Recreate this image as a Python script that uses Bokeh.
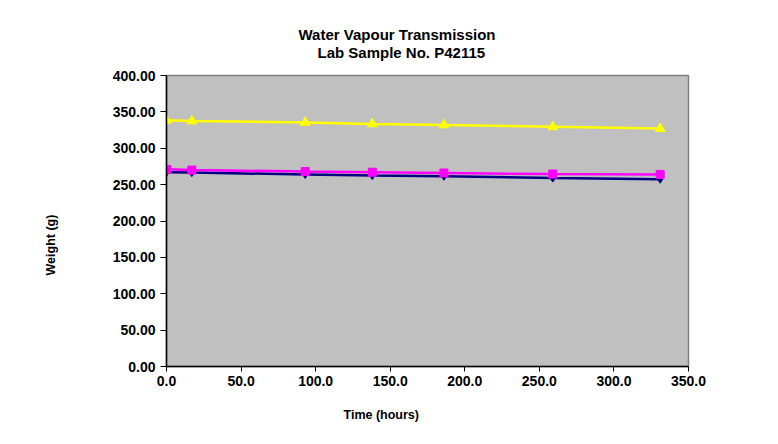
from bokeh.plotting import figure
from bokeh.models import Title, SingleIntervalTicker, NumeralTickFormatter, Range1d
from bokeh.embed import file_html
from bokeh.resources import INLINE

# ---- data ----
hours = [0, 17, 93, 138, 186, 259, 331]
series_a = [267.0, 266.5, 264.0, 262.5, 261.5, 259.0, 257.5]   # navy diamonds
series_b = [271.0, 270.0, 268.0, 267.0, 266.0, 264.5, 264.0]   # magenta squares
series_c = [338.5, 337.5, 335.5, 333.5, 332.0, 329.5, 327.0]   # yellow triangles

title_line1 = "Water Vapour Transmission"
title_line2 = "Lab Sample No. P42115"
x_title = "Time (hours)"
y_title = "Weight (g)"

FONT = "Liberation Sans"

p = figure(output_backend="svg", toolbar_location=None,
           frame_width=522, frame_height=291,
           min_border_left=166, min_border_right=74,
           min_border_top=75, min_border_bottom=62,
           x_range=Range1d(0, 350), y_range=Range1d(0, 400),
           border_fill_color="white")
p.background_fill_color = "#C0C0C0"
p.outline_line_color = "#808080"
p.outline_line_width = 1.5
p.xgrid.visible = False
p.ygrid.visible = False

for ax in (p.xaxis[0], p.yaxis[0]):
    ax.axis_line_color = "black"
    ax.axis_line_width = 1.5
    ax.major_tick_line_color = "black"
    ax.minor_tick_line_color = None
    ax.major_tick_in = 0
    ax.major_label_text_font = FONT
    ax.major_label_text_font_style = "bold"
    ax.major_label_text_font_size = "14px"
    ax.major_label_text_color = "black"

p.xaxis[0].ticker = SingleIntervalTicker(interval=50)
p.yaxis[0].ticker = SingleIntervalTicker(interval=50)
p.xaxis[0].formatter = NumeralTickFormatter(format="0.0")
p.yaxis[0].formatter = NumeralTickFormatter(format="0.00")
p.xaxis[0].major_tick_out = 5
p.yaxis[0].major_tick_out = 6
p.xaxis[0].major_label_standoff = 4
p.yaxis[0].major_label_standoff = 5

# series
p.line(hours, series_a, line_color="#000080", line_width=2.5)
p.scatter(hours, series_a, marker="diamond", size=8, fill_color="#000080", line_color="#000080")
p.line(hours, series_b, line_color="#FF00FF", line_width=2.5)
p.scatter(hours, series_b, marker="square", size=8, fill_color="#FF00FF", line_color="#FF00FF")
p.line(hours, series_c, line_color="#FFFF00", line_width=2.5)
p.scatter(hours, series_c, marker="triangle", size=10, fill_color="#FFFF00", line_color="#FFFF00")

def mk_title(text, size, **kw):
    return Title(text=text, align="left", text_font=FONT, text_font_style="bold",
                 text_font_size=size, text_color="black", **kw)

def spacer(gap):
    return Title(text=" ", text_font_size="1px", standoff=gap)

# above: spacer, line 2, then the plot title (line 1) outermost
p.add_layout(spacer(12), "above")
p.add_layout(mk_title(title_line2, "15px", offset=151, standoff=0), "above")
p.title = mk_title(title_line1, "15px", offset=132, standoff=-3)
# below: axis, spacer, x title
p.add_layout(spacer(14), "below")
p.add_layout(mk_title(x_title, "12.5px", offset=177, standoff=0), "below")
# left: axis, spacer, y title
p.add_layout(spacer(49), "left")
p.add_layout(mk_title(y_title, "12.5px", offset=91, standoff=0), "left")

open("out.html", "w").write(file_html(p, INLINE))
